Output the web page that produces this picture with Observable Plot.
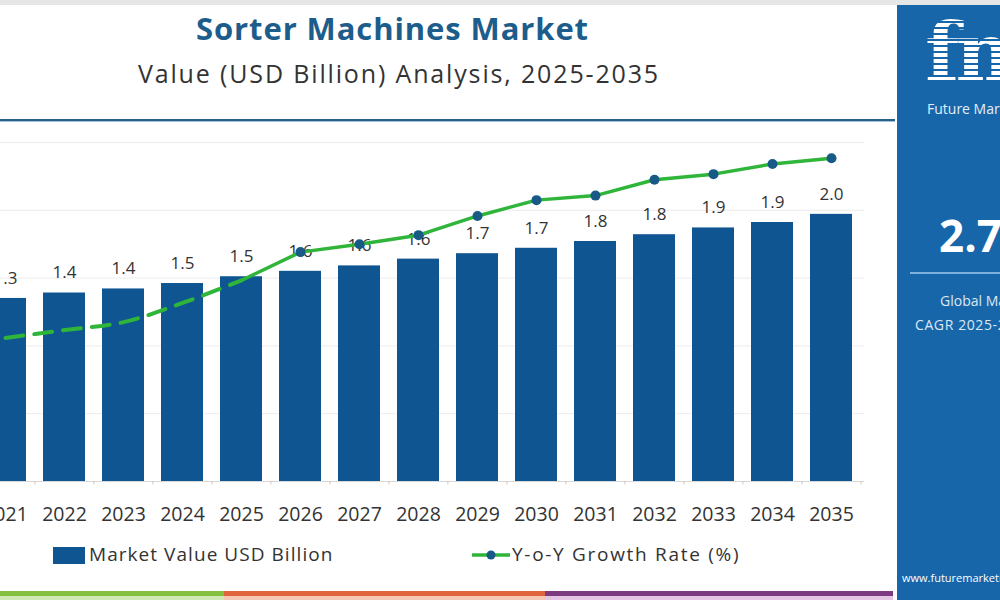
<!DOCTYPE html>
<html>
<head>
<meta charset="utf-8">
<script src="https://cdn.jsdelivr.net/npm/d3@7"></script>
<script src="https://cdn.jsdelivr.net/npm/@observablehq/plot@0.6"></script>
<style>
  body { margin:0; width:1000px; height:600px; overflow:hidden; position:relative; background:#fff; font-family:"Open Sans", sans-serif; color:#333; }
  .abs { position:absolute; }
  #title { left:0; width:785px; top:7px; text-align:center; font-size:31px; letter-spacing:0.9px; font-weight:700; color:#1d5d8c; }
  #subtitle { left:0; width:798px; top:56px; text-align:center; font-size:25px; letter-spacing:1.85px; color:#333; }
  #chart, #chart2 { position:absolute; left:-28px; top:130px; }
  .leg { font-size:19px; color:#333; white-space:nowrap; }
  #panel { left:897px; top:5px; width:103px; height:595px; background:#1766a9; color:#fff; overflow:hidden; }
</style>
</head>
<body>
<div class="abs" style="left:0;top:0;width:1000px;height:5px;background:#e6e6e6"></div>
<div id="title" class="abs">Sorter Machines Market</div>
<div id="subtitle" class="abs">Value (USD Billion) Analysis, 2025-2035</div>
<div class="abs" style="left:0;top:119px;width:895px;height:2px;background:#2a5f86"></div>
<div class="abs" style="left:0;top:121px;width:895px;height:1px;background:#9fc3dc"></div>
<div id="chart"></div>
<div id="chart2"></div>

<div class="abs" style="left:53px;top:547px;width:32px;height:17px;background:#0e5592"></div>
<div class="abs leg" style="left:89px;top:541px;letter-spacing:1.05px;">Market Value USD Billion</div>
<svg class="abs" style="left:470px;top:545px" width="42" height="20">
  <line x1="2" y1="10" x2="40" y2="10" stroke="#2fb53a" stroke-width="3.5"/>
  <circle cx="21" cy="10" r="4.5" fill="#175a86"/>
</svg>
<div class="abs leg" style="left:512px;top:541px;letter-spacing:1.7px;">Y-o-Y Growth Rate (%)</div>

<div id="panel" class="abs">
  <div class="abs" style="left:28px;top:0px;font-family:'DejaVu Serif',serif;font-weight:700;font-size:80px;line-height:normal;letter-spacing:-4px;background:repeating-linear-gradient(#fff 0 4px,#1766a9 4px 6px);-webkit-background-clip:text;background-clip:text;color:transparent;">fmi</div>
  <div class="abs" style="left:30px;top:94px;font-size:14px;line-height:normal;white-space:nowrap;color:#e3eef8;">Future Market Insights</div>
  <div class="abs" style="left:42px;top:200px;font-size:44px;font-weight:700;white-space:nowrap;">2.7%</div>
  <div class="abs" style="left:13px;top:267px;width:100px;height:2px;background:#7fb0dc"></div>
  <div class="abs" style="left:43px;top:286px;font-size:14px;color:#dbe8f5;white-space:nowrap;">Global Market</div>
  <div class="abs" style="left:18px;top:310px;font-size:14px;letter-spacing:0.6px;color:#dbe8f5;white-space:nowrap;">CAGR 2025-2035</div>
  <div class="abs" style="left:5px;top:565px;font-size:11px;white-space:nowrap;">www.futuremarketinsights.com</div>
</div>

<div class="abs" style="left:0;top:591px;width:224px;height:5px;background:#86c041"></div>
<div class="abs" style="left:0;top:596px;width:224px;height:4px;background:#cfe8b4"></div>
<div class="abs" style="left:224px;top:591px;width:321px;height:5px;background:#e0653d"></div>
<div class="abs" style="left:224px;top:596px;width:321px;height:4px;background:#f5c8b5"></div>
<div class="abs" style="left:545px;top:591px;width:348px;height:5px;background:#7c3a80"></div>
<div class="abs" style="left:545px;top:596px;width:348px;height:4px;background:#e4c6e4"></div>

<script>
const years = ["2021","2022","2023","2024","2025","2026","2027","2028","2029","2030","2031","2032","2033","2034","2035"];
const marketValue = [1.35,1.39,1.42,1.46,1.51,1.55,1.59,1.64,1.68,1.72,1.77,1.82,1.87,1.91,1.97];
const valueLabels = ["1.3","1.4","1.4","1.5","1.5","1.6","1.6","1.6","1.7","1.7","1.8","1.8","1.9","1.9","2.0"];
const growthRate = [1.27,1.34,1.41,1.58,1.78,2.03,2.10,2.18,2.35,2.49,2.53,2.67,2.72,2.81,2.86];

const data = years.map((y, i) => ({year: y, value: marketValue[i], label: valueLabels[i], growth: growthRate[i]}));
const dashedPart = data.filter(d => +d.year <= 2025);
const solidPart = data.filter(d => +d.year >= 2025);
const dotPart = data.filter(d => +d.year >= 2026);

const common = {
  width: 902, height: 401,
  marginLeft: 0, marginRight: 10, marginTop: 12, marginBottom: 50,
  style: {fontFamily: "'Open Sans', sans-serif", fontSize: "19px", color: "#333", background: "transparent", overflow: "visible"}
};
const xScale = {domain: years, paddingInner: 0.28, paddingOuter: 0.17, label: null};

const chart = Plot.plot({
  ...common,
  x: {...xScale, axis: null},
  y: {domain: [0, 2.5], axis: null},
  marks: [
    Plot.gridY([0.5, 1, 1.5, 2, 2.5], {stroke: "#ececec", strokeOpacity: 1}),
    Plot.barY(data, {x: "year", y: "value", fill: "#0e5592"}),
    Plot.ruleY([0], {stroke: "#d8d8d8"}),
    Plot.ruleX(data, {x: "year", y1: 0, y2: -0.025, dx: -29.6, stroke: "#d9c3b5"}),
    Plot.ruleX(data.slice(-1), {x: "year", y1: 0, y2: -0.025, dx: 29.6, stroke: "#d9c3b5"}),
    Plot.text(data, {x: "year", y: "value", text: "label", dy: -20, fontSize: 17, fill: "#333"}),
    Plot.axisX({tickSize: 0, tickPadding: 26, fontSize: 19.5, fill: "#333", style: {letterSpacing: "0.4px"}})
  ]
});
document.getElementById("chart").append(chart);

const chart2 = Plot.plot({
  ...common,
  x: {...xScale, axis: null},
  y: {domain: [0, 3], axis: null},
  marks: [
    Plot.line(dashedPart, {x: "year", y: "growth", stroke: "#2fb53a", strokeWidth: 4, strokeDasharray: "18,11", curve: "monotone-x"}),
    Plot.line(solidPart, {x: "year", y: "growth", stroke: "#2fb53a", strokeWidth: 3.5}),
    Plot.dot(dotPart, {x: "year", y: "growth", r: 5, fill: "#175a86"})
  ]
});
document.getElementById("chart2").append(chart2);
</script>
</body>
</html>
